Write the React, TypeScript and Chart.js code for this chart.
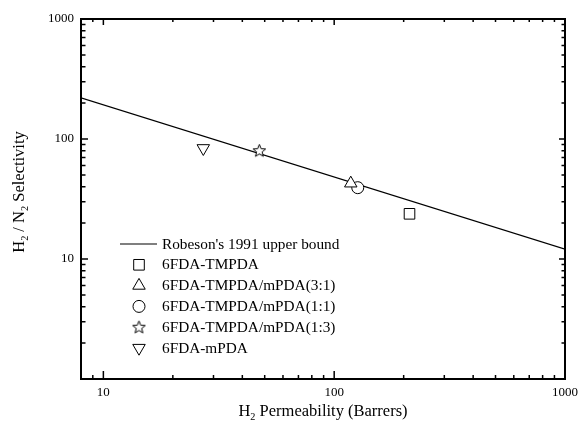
import React, { useEffect, useRef } from 'react';
import { Chart, registerables } from 'chart.js';
import { drawPoint } from 'chart.js/helpers';

Chart.register(...registerables);

// ---- data ----
const boundLabel = "Robeson's 1991 upper bound";
const boundPermeability = [8, 1000];
const boundSelectivity = [220, 12.1];

const seriesNames = [
  '6FDA-TMPDA',
  '6FDA-TMPDA/mPDA(3:1)',
  '6FDA-TMPDA/mPDA(1:1)',
  '6FDA-TMPDA/mPDA(1:3)',
  '6FDA-mPDA',
];
const permeability = [212, 118, 126.5, 47.4, 27.1];
const selectivity = [23.8, 42.7, 39.3, 79.9, 83.7];

const xTickLabels = [10, 100, 1000];
const yTickLabels = [10, 100, 1000];
const xRange = [8, 1000];
const yRange = [1, 1000];

const FONT = '"Liberation Serif", "Times New Roman", serif';

function makeStar(): HTMLCanvasElement {
  const c = document.createElement('canvas');
  c.width = 17;
  c.height = 17;
  const ctx = c.getContext('2d')!;
  const cx = 8.5, cy = 8.8, R = 6.6, r = 2.9;
  ctx.beginPath();
  for (let i = 0; i < 10; i++) {
    const rad = (Math.PI / 5) * i - Math.PI / 2;
    const rr = i % 2 === 0 ? R : r;
    const x = cx + Math.cos(rad) * rr;
    const y = cy + Math.sin(rad) * rr;
    if (i === 0) ctx.moveTo(x, y);
    else ctx.lineTo(x, y);
  }
  ctx.closePath();
  ctx.fillStyle = '#fff';
  ctx.fill();
  ctx.strokeStyle = '#000';
  ctx.lineWidth = 1;
  ctx.stroke();
  return c;
}

function decadeTicks(min: number, max: number) {
  const out: { v: number; major: boolean }[] = [];
  const e0 = Math.floor(Math.log10(min));
  const e1 = Math.ceil(Math.log10(max));
  for (let e = e0; e <= e1; e++) {
    for (let m = 1; m <= 9; m++) {
      const v = m * Math.pow(10, e);
      if (v >= min * 0.9999 && v <= max * 1.0001) out.push({ v, major: m === 1 });
    }
  }
  return out;
}

function drawSubText(ctx: CanvasRenderingContext2D, parts: [string, boolean][], size: number, x: number, y: number) {
  // draws left-aligned text starting at x, baseline y; parts flagged true are subscripts
  let cx = x;
  for (const [t, sub] of parts) {
    ctx.font = `${sub ? size * 0.62 : size}px ${FONT}`;
    ctx.fillText(t, cx, sub ? y + size * 0.22 : y);
    cx += ctx.measureText(t).width;
  }
}
function measureSub(ctx: CanvasRenderingContext2D, parts: [string, boolean][], size: number) {
  let w = 0;
  for (const [t, sub] of parts) {
    ctx.font = `${sub ? size * 0.62 : size}px ${FONT}`;
    w += ctx.measureText(t).width;
  }
  return w;
}

export default function App() {
  const ref = useRef<HTMLCanvasElement>(null);

  useEffect(() => {
    if (!ref.current) return;
    const star = makeStar();
    const styles: any[] = [
      { pointStyle: 'rect', rotation: 0, radius: 7.5 },
      { pointStyle: 'triangle', rotation: 0, radius: 7.2 },
      { pointStyle: 'circle', rotation: 0, radius: 6 },
      { pointStyle: star, rotation: 0, radius: 7 },
      { pointStyle: 'triangle', rotation: 180, radius: 7.2 },
    ];

    const framePlugin = {
      id: 'frame',
      afterDraw(chart: any) {
        const ctx: CanvasRenderingContext2D = chart.ctx;
        const { left, right, top, bottom } = chart.chartArea;
        const xs = chart.scales.x;
        const ys = chart.scales.y;
        ctx.save();
        ctx.strokeStyle = '#000';
        ctx.fillStyle = '#000';
        // ticks
        ctx.lineWidth = 1.5;
        for (const t of decadeTicks(xRange[0], xRange[1])) {
          const px = xs.getPixelForValue(t.v);
          const L = t.major ? 8 : 4;
          ctx.beginPath();
          ctx.moveTo(px, bottom);
          ctx.lineTo(px, bottom - L);
          ctx.moveTo(px, top);
          ctx.lineTo(px, top + (t.major ? 6 : 3));
          ctx.stroke();
        }
        for (const t of decadeTicks(yRange[0], yRange[1])) {
          const py = ys.getPixelForValue(t.v);
          const L = t.major ? 7 : 4.5;
          ctx.beginPath();
          ctx.moveTo(left, py);
          ctx.lineTo(left + L, py);
          ctx.moveTo(right, py);
          ctx.lineTo(right - (t.major ? 6 : 3.5), py);
          ctx.stroke();
        }
        // frame
        ctx.lineWidth = 2;
        ctx.strokeRect(left, top, right - left, bottom - top);

        // tick labels
        ctx.font = `13px ${FONT}`;
        ctx.textBaseline = 'middle';
        ctx.textAlign = 'center';
        for (const v of xTickLabels) {
          ctx.fillText(String(v), xs.getPixelForValue(v), bottom + 14);
        }
        ctx.textAlign = 'right';
        for (const v of yTickLabels) {
          ctx.fillText(String(v), left - 7, ys.getPixelForValue(v));
        }

        // axis titles
        ctx.textAlign = 'left';
        ctx.textBaseline = 'alphabetic';
        const tsize = 16.5;
        const xParts: [string, boolean][] = [['H', false], ['2', true], [' Permeability (Barrers)', false]];
        const xw = measureSub(ctx, xParts, tsize);
        drawSubText(ctx, xParts, tsize, (left + right) / 2 - xw / 2, bottom + 37);
        const yParts: [string, boolean][] = [['H', false], ['2', true], [' / N', false], ['2', true], [' Selectivity', false]];
        const yw = measureSub(ctx, yParts, tsize);
        ctx.save();
        ctx.translate(24, (top + bottom) / 2 - 7);
        ctx.rotate(-Math.PI / 2);
        drawSubText(ctx, yParts, tsize, -yw / 2, 0);
        ctx.restore();

        // legend
        const lx = 139;
        const ly0 = 244;
        const dy = 20.8;
        ctx.font = `15.3px ${FONT}`;
        ctx.textBaseline = 'middle';
        ctx.textAlign = 'left';
        ctx.lineWidth = 1.2;
        ctx.beginPath();
        ctx.moveTo(120, ly0);
        ctx.lineTo(157, ly0);
        ctx.stroke();
        ctx.fillText(boundLabel, 162, ly0 + 0.5);
        seriesNames.forEach((name, i) => {
          const y = ly0 + dy * (i + 1);
          ctx.fillStyle = '#fff';
          ctx.strokeStyle = '#000';
          ctx.lineWidth = 1;
          drawPoint(ctx, { ...styles[i], borderWidth: 1 }, lx, y);
          ctx.fillStyle = '#000';
          ctx.fillText(name, 162, y + 0.5);
        });
        ctx.restore();
      },
    };

    const datasets: any[] = [
      {
        label: boundLabel,
        data: boundPermeability.map((x, i) => ({ x, y: boundSelectivity[i] })),
        borderColor: '#000',
        borderWidth: 1.2,
        pointRadius: 0,
        showLine: true,
        fill: false,
        order: 10,
      },
      ...seriesNames.map((name, i) => ({
        label: name,
        data: [{ x: permeability[i], y: selectivity[i] }],
        pointStyle: styles[i].pointStyle,
        rotation: styles[i].rotation,
        pointRadius: styles[i].radius,
        pointBorderWidth: 1,
        borderColor: '#000',
        backgroundColor: '#fff',
        pointBackgroundColor: '#fff',
        pointBorderColor: '#000',
        showLine: false,
        order: 1,
      })),
    ];

    const chart = new Chart(ref.current, {
      type: 'scatter',
      data: { datasets },
      options: {
        animation: false,
        responsive: false,
        devicePixelRatio: 1,
        layout: { padding: { left: 81, top: 19, right: 13, bottom: 49 } },
        plugins: { legend: { display: false }, tooltip: { enabled: false } },
        scales: {
          x: { type: 'logarithmic', min: xRange[0], max: xRange[1], display: false },
          y: { type: 'logarithmic', min: yRange[0], max: yRange[1], display: false },
        },
      },
      plugins: [framePlugin],
    });
    return () => chart.destroy();
  }, []);

  return (
    <div style={{ position: 'absolute', left: 0, top: 0, width: 578, height: 428, background: '#fff' }}>
      <canvas ref={ref} width={578} height={428} style={{ display: 'block' }} />
    </div>
  );
}
